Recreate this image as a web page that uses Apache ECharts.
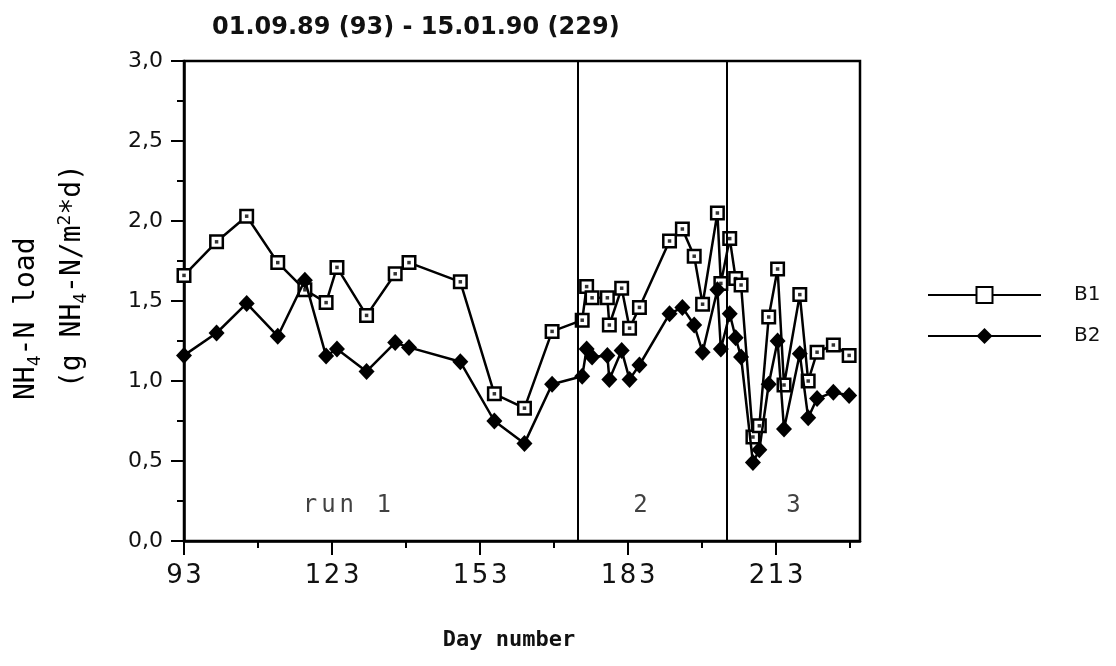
<!DOCTYPE html>
<html>
<head>
<meta charset="utf-8">
<title>NH4-N load, B1 and B2</title>
<script src="https://cdn.jsdelivr.net/npm/echarts@6/dist/echarts.min.js"></script>
<style>
  html, body { margin: 0; padding: 0; background: #fff; }
  #chart { width: 1116px; height: 666px; }
</style>
</head>
<body>
<div id="chart"></div>
<script>
// Sampling days (day number of the year count starting 01.09.89 = 93)
const days = [
  93, 99.6, 105.7, 112, 117.5, 121.8, 124, 130, 135.8, 138.6, 149, 155.9, 162, 167.6,
  173.7, 174.6, 175.7, 178.8, 179.2, 181.7, 183.3, 185.3, 191.4, 194, 196.4, 198.1,
  201.1, 201.8, 203.6, 204.8, 205.9, 208.3, 209.6, 211.5, 213.3, 214.6, 217.8, 219.5, 221.3, 224.6, 227.8
];
// NH4-N load, g NH4-N/m2*d
const loadB1 = [
  1.66, 1.87, 2.03, 1.74, 1.57, 1.49, 1.71, 1.41, 1.67, 1.74, 1.62, 0.92, 0.83, 1.31,
  1.38, 1.59, 1.52, 1.52, 1.35, 1.58, 1.33, 1.46, 1.875, 1.95, 1.78, 1.48,
  2.05, 1.61, 1.89, 1.64, 1.60, 0.65, 0.72, 1.40, 1.70, 0.975, 1.54, 1.00, 1.18, 1.225, 1.16
];
const loadB2 = [
  1.16, 1.30, 1.485, 1.28, 1.63, 1.156, 1.20, 1.06, 1.24, 1.21, 1.12, 0.75, 0.61, 0.98,
  1.03, 1.20, 1.15, 1.16, 1.01, 1.19, 1.01, 1.10, 1.42, 1.46, 1.35, 1.18,
  1.57, 1.20, 1.42, 1.27, 1.15, 0.49, 0.57, 0.98, 1.25, 0.70, 1.17, 0.77, 0.89, 0.93, 0.91
];
// Boundaries between the operating runs
const runBoundaries = [172.7, 203];
// Run captions and the day / load level they sit at
const runLabelTexts = ['run 1', '2', '3'];
const runLabelDays = [126, 185.5, 216.5];
const runLabelLevel = 0.22;
// Axis ticks
const xMajorTicks = [93, 123, 153, 183, 213];
const xMinorTicks = [108, 138, 168, 198, 228];
const xRange = [93, 230];
const yRange = [0, 3];
const yStep = 0.5;

const ptsB1 = days.map((d, i) => [d, loadB1[i]]);
const ptsB2 = days.map((d, i) => [d, loadB2[i]]);
const runPts = runLabelDays.map((d, i) => [d, runLabelLevel, runLabelTexts[i]]);

const INK = '#000';
const SANS = 'DejaVu Sans';
const MONO = 'DejaVu Sans Mono';
const hair = '\u200A';

const chart = echarts.init(document.getElementById('chart'), null, { renderer: 'canvas' });

chart.setOption({
  animation: false,
  backgroundColor: '#fff',
  title: {
    text: '01.09.89 (93) - 15.01.90 (229)',
    left: 207, top: 11,
    textStyle: { fontFamily: SANS, fontWeight: 'bold', fontSize: 24, color: '#111' }
  },
  legend: {
    data: ['B1', 'B2'],
    orient: 'vertical',
    left: 922, top: 280,
    itemWidth: 113, itemHeight: 20, itemGap: 21,
    textStyle: { fontFamily: SANS, fontSize: 20, lineHeight: 20, color: '#111', padding: [0, 0, 0, 28] },
    selectedMode: false
  },
  grid: {
    left: 184, right: 256, top: 61, bottom: 125,
    show: true, borderColor: INK, borderWidth: 2.5, backgroundColor: 'transparent'
  },
  xAxis: [
    {
      type: 'value', min: xRange[0], max: xRange[1],
      name: 'Day number', nameLocation: 'middle', nameGap: 88,
      nameTextStyle: { fontFamily: MONO, fontWeight: 'bold', fontSize: 22, color: '#111', padding: [0, 26, 0, 0] },
      axisLine: { show: true, lineStyle: { color: INK, width: 2.5 } },
      axisTick: { show: true, customValues: xMajorTicks, length: 14, lineStyle: { color: INK, width: 2 } },
      axisLabel: {
        customValues: xMajorTicks, margin: 22,
        fontFamily: SANS, fontSize: 26, color: '#111',
        formatter: v => String(v).split('').join(hair)
      },
      splitLine: { show: false }
    },
    {
      type: 'value', min: xRange[0], max: xRange[1], position: 'bottom',
      axisLine: { show: false },
      axisTick: { show: true, customValues: xMinorTicks, length: 7, lineStyle: { color: INK, width: 2 } },
      axisLabel: { show: false },
      splitLine: { show: false }
    }
  ],
  yAxis: {
    type: 'value', min: yRange[0], max: yRange[1], interval: yStep,
    axisLine: { show: true, lineStyle: { color: INK, width: 2.5 } },
    axisTick: { show: true, length: 13, lineStyle: { color: INK, width: 2 } },
    minorTick: { show: true, splitNumber: 2, length: 7, lineStyle: { color: INK, width: 2 } },
    axisLabel: {
      margin: 21, fontFamily: SANS, fontSize: 22, color: '#111',
      formatter: v => v.toFixed(1).replace('.', ',')
    },
    splitLine: { show: false }
  },
  graphic: [
    {
      type: 'text', x: 27, y: 400, rotation: Math.PI / 2,
      style: {
        text: '{a|NH}{s|4}{a|-N load}',
        align: 'left', verticalAlign: 'middle',
        rich: {
          a: { fontFamily: MONO, fontSize: 28, color: '#111', lineHeight: 34, verticalAlign: 'middle' },
          s: { fontFamily: MONO, fontSize: 18, color: '#111', lineHeight: 34, verticalAlign: 'bottom', padding: [12, 0, 0, 0] }
        }
      }
    },
    {
      type: 'text', x: 73, y: 388, rotation: Math.PI / 2,
      style: {
        text: '{a|(g NH}{s|4}{a|-N/m}{p|2}{a|*d)}',
        align: 'left', verticalAlign: 'middle',
        rich: {
          a: { fontFamily: MONO, fontSize: 28, color: '#111', lineHeight: 34, verticalAlign: 'middle' },
          s: { fontFamily: MONO, fontSize: 18, color: '#111', lineHeight: 34, verticalAlign: 'bottom', padding: [12, 0, 0, 0] },
          p: { fontFamily: MONO, fontSize: 18, color: '#111', lineHeight: 34, verticalAlign: 'top', padding: [0, 0, 12, 0] }
        }
      }
    }
  ],
  series: [
    {
      name: 'B1', type: 'line', data: ptsB1, z: 2,
      symbol: 'rect', symbolSize: 12.5, showAllSymbol: true,
      lineStyle: { color: INK, width: 2.5 },
      itemStyle: { color: '#fff', borderColor: INK, borderWidth: 2.5 },
      emphasis: { disabled: true },
      markLine: {
        silent: true, symbol: 'none', label: { show: false },
        lineStyle: { color: INK, width: 2, type: 'solid' },
        data: runBoundaries.map(d => ({ xAxis: d }))
      }
    },
    {
      name: 'B1 centre', type: 'scatter', data: ptsB1, z: 3, silent: true,
      symbol: 'rect', symbolSize: 3.5,
      itemStyle: { color: INK }
    },
    {
      name: 'B2', type: 'line', data: ptsB2, z: 4,
      symbol: 'diamond', symbolSize: [16, 17], showAllSymbol: true,
      lineStyle: { color: INK, width: 2.5 },
      itemStyle: { color: INK },
      emphasis: { disabled: true }
    },
    {
      name: 'runs', type: 'scatter', data: runPts, z: 5, silent: true,
      symbolSize: 0,
      label: {
        show: true, position: 'inside',
        fontFamily: MONO, fontSize: 24, color: '#111',
        // each character as its own token so the caption is letter-spaced
        formatter: p => p.value[2].split('').map(c => '{c|' + c + '}').join(''),
        rich: {
          c: { fontFamily: MONO, fontSize: 24, color: '#111', padding: [0, 2, 0, 2] }
        }
      }
    }
  ]
});
</script>
</body>
</html>
